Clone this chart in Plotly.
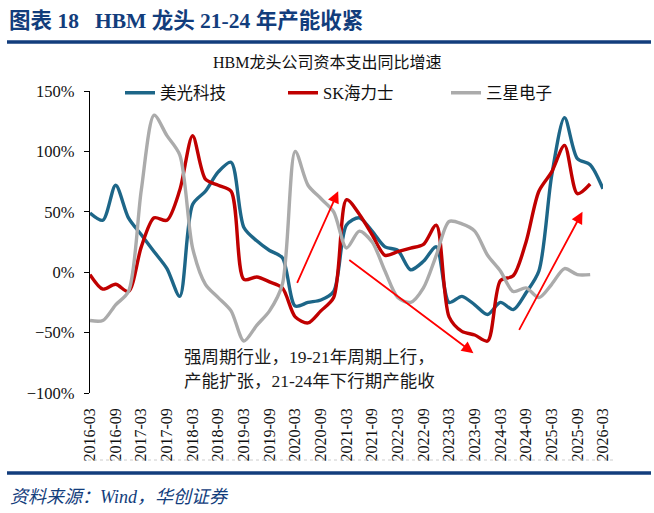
import plotly.graph_objects as go

quarters = [
    "2016-03", "2016-06", "2016-09", "2016-12", "2017-03", "2017-06", "2017-09", "2017-12",
    "2018-03", "2018-06", "2018-09", "2018-12", "2019-03", "2019-06", "2019-09", "2019-12",
    "2020-03", "2020-06", "2020-09", "2020-12", "2021-03", "2021-06", "2021-09", "2021-12",
    "2022-03", "2022-06", "2022-09", "2022-12", "2023-03", "2023-06", "2023-09", "2023-12",
    "2024-03", "2024-06", "2024-09", "2024-12", "2025-03", "2025-06", "2025-09", "2025-12",
    "2026-03",
]
tick_labels = quarters[::2]

micron = [49, 43, 72, 45, 31, 17, 3, -20, 56, 67, 83, 91, 37, 26, 18, 12, -28, -25, -23, -16,
          39, 45, 34, 21, 18, 2, 9, 21, -25, -20, -27, -35, -25, -31, -17, 1, 80, 128, 94, 89, 69]
sk_hynix = [-2, -14, -10, -16, 21, 45, 43, 68, 113, 77, 72, 67, -6, -4, -8, -13, -37, -42, -32, -21,
            60, 48, 31, 14, 17, 20, 23, 39, -37, -49, -52, -57, -7, -3, 25, 67, 83, 105, 65, 73]
samsung = [-40, -40, -27, -16, 68, 130, 113, 97, 20, -10, -21, -32, -57, -44, -32, -10, 100, 72, 61, 50,
           20, 34, 25, 1, -21, -25, -13, 14, 42, 40, 34, 14, 1, -16, -13, -21, -10, 3, -2, -2]

series_names = ["美光科技", "SK海力士", "三星电子"]
series_values = [micron, sk_hynix, samsung]
series_colors = ["#1d6688", "#c00000", "#ababab"]

# arrow annotations (start -> head) in data coordinates (quarter index, %)
arrows = [
    ((16.1, -10), (19.35, 67)),
    ((20.1, 11), (29.9, -67)),
    ((33.4, -49), (38.4, 50)),
]

note_lines = ["强周期行业，19-21年周期上行，", "产能扩张，21-24年下行期产能收"]

W, H = 654, 513
L, R, T, B = 90, 603, 91, 393


def px(x):
    return (x - L) / (R - L)


def py(y):
    return (B - y) / (B - T)


FONT = "Liberation Serif, Noto Sans CJK SC, serif"
NAVY = "#123d7c"

fig = go.Figure()
for name, vals, col in zip(series_names, series_values, series_colors):
    fig.add_trace(go.Scatter(
        x=quarters[:len(vals)], y=vals, name=name, mode="lines",
        line=dict(color=col, width=3.4, shape="spline", smoothing=0.8),
    ))

ann = []
for (sx, sy), (hx, hy) in arrows:
    ann.append(dict(x=hx, y=hy, ax=sx, ay=sy, xref="x", yref="y", axref="x", ayref="y",
                    text="", showarrow=True, arrowhead=2, arrowsize=1.3, arrowwidth=1.8,
                    arrowcolor="#ff0000"))

for i, t in enumerate(note_lines):
    ann.append(dict(x=px(182), y=py(357 + 24 * i), xref="paper", yref="paper", xanchor="left",
                    yanchor="middle", text=t, showarrow=False,
                    font=dict(family=FONT, size=17.5, color="#1a1a1a")))

ann.append(dict(x=px(7), y=py(21), xref="paper", yref="paper", xanchor="left", yanchor="middle",
                text="图表 18   HBM 龙头 21-24 年产能收紧", showarrow=False,
                font=dict(family=FONT, size=21.5, color=NAVY, weight="bold")))
ann.append(dict(x=px(327), y=py(63), xref="paper", yref="paper", xanchor="center", yanchor="middle",
                text="HBM龙头公司资本支出同比增速", showarrow=False,
                font=dict(family=FONT, size=16, color="#111111")))
ann.append(dict(x=px(8), y=py(497), xref="paper", yref="paper", xanchor="left", yanchor="middle",
                text="资料来源：Wind，华创证券", showarrow=False,
                font=dict(family=FONT, size=18, color=NAVY, style="italic")))

shapes = [
    dict(type="line", xref="paper", yref="paper", x0=px(7), x1=px(651), y0=py(42), y1=py(42),
         line=dict(color=NAVY, width=3.5)),
    dict(type="line", xref="paper", yref="paper", x0=px(7), x1=px(651), y0=py(473), y1=py(473),
         line=dict(color=NAVY, width=3.5)),
    dict(type="line", xref="paper", yref="paper", x0=px(88), x1=px(616), y0=py(460), y1=py(460),
         line=dict(color="#cccccc", width=1, dash="dot")),
]

fig.update_layout(
    width=W, height=H,
    margin=dict(l=L, r=W - R, t=T, b=H - B, pad=0),
    paper_bgcolor="white", plot_bgcolor="white",
    font=dict(family=FONT, size=16, color="#111111"),
    showlegend=True,
    legend=dict(orientation="h", x=px(120), y=py(93), xanchor="left", yanchor="middle",
                bgcolor="rgba(0,0,0,0)", font=dict(family=FONT, size=16.5),
                entrywidth=118, entrywidthmode="pixels", itemwidth=30),
    xaxis=dict(type="category", range=[0, len(quarters) - 1], tickmode="array",
               tickvals=tick_labels, ticktext=tick_labels, tickangle=-90,
               showline=False, ticks="", showgrid=False, zeroline=False,
               ticklabelstandoff=11, tickfont=dict(family=FONT, size=16, color="#111111")),
    xaxis2=dict(overlaying="x", anchor="free", position=0.4, range=[0, len(quarters) - 1],
                tick0=0, dtick=2, showline=True, linecolor="black", linewidth=1.2,
                ticks="outside", ticklen=5, tickcolor="black", showticklabels=False,
                showgrid=False, zeroline=False, side="bottom"),
    yaxis=dict(range=[-100, 150], dtick=50, ticksuffix="%", showline=True, linecolor="black",
               linewidth=1.2, ticks="outside", ticklen=5, tickcolor="black", showgrid=False,
               zeroline=False, ticklabelstandoff=6,
               tickfont=dict(family=FONT, size=16.5, color="#111111")),
    annotations=ann, shapes=shapes,
)

fig.write_html("out.html")
